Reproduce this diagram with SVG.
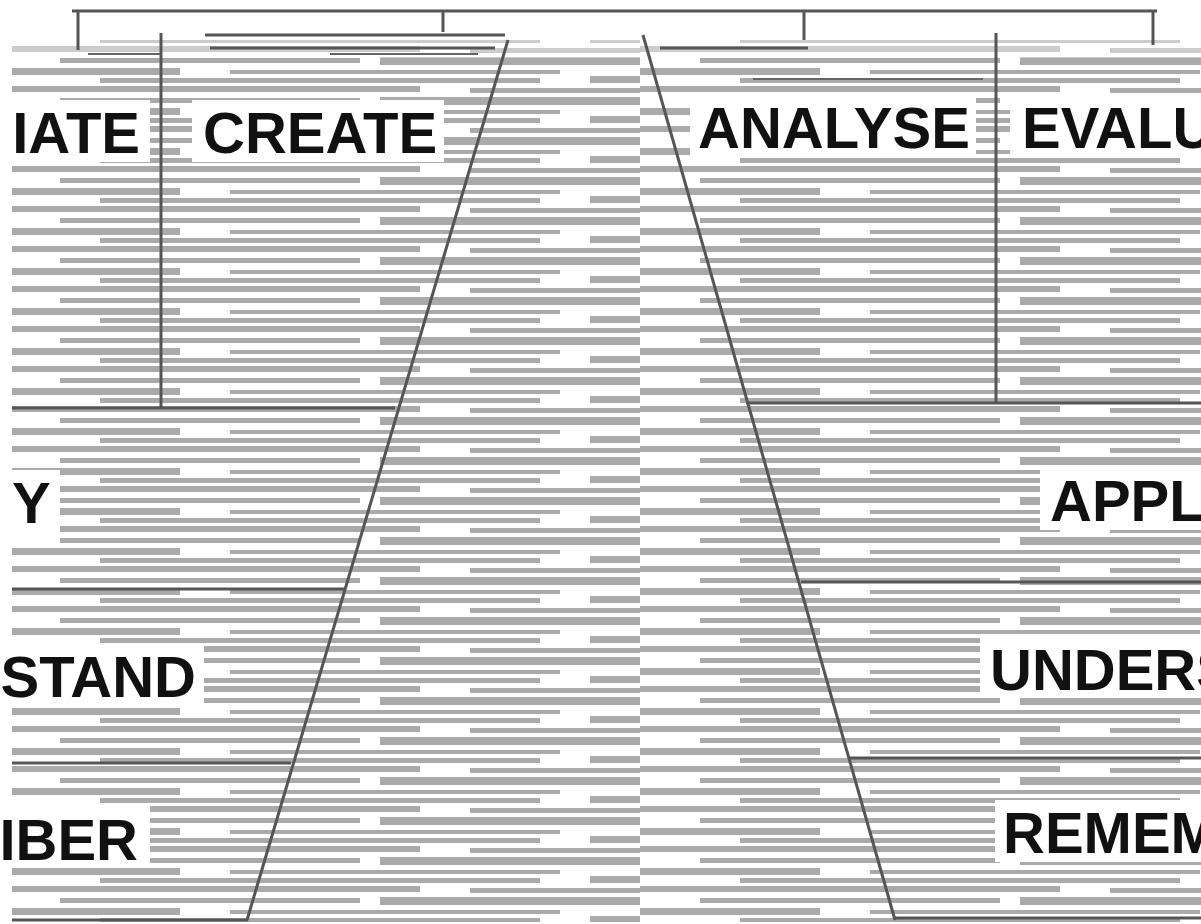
<svg xmlns="http://www.w3.org/2000/svg" width="1201" height="924" viewBox="0 0 1201 924">
<style>
.lbl{font-family:"Liberation Sans",Arial,sans-serif;font-weight:bold;font-size:58px;fill:#111}
.ln{stroke:#555;stroke-width:3;fill:none}
.lt{stroke:#666;stroke-width:2;fill:none}
.halo{fill:#fff}
.s{fill:#aaa}
</style>
<defs>
<pattern id="stripes" patternUnits="userSpaceOnUse" width="640" height="40" x="0" y="6">
<rect class="s" x="0" y="0" width="420" height="6"/>
<rect class="s" x="470" y="2" width="170" height="5"/>
<rect class="s" x="60" y="12" width="300" height="5"/>
<rect class="s" x="380" y="11" width="260" height="8"/>
<rect class="s" x="0" y="22" width="180" height="7"/>
<rect class="s" x="230" y="24" width="330" height="4"/>
<rect class="s" x="100" y="32" width="440" height="5"/>
<rect class="s" x="590" y="30" width="50" height="7"/>
</pattern>
</defs>
<rect width="1201" height="924" fill="#fff"/>
<g id="texture">
<rect x="12" y="58" width="1189" height="864" fill="url(#stripes)"/>
<rect x="12" y="40" width="1189" height="18" fill="url(#stripes)" opacity="0.6"/>
</g>
<g id="halos">
<rect class="halo" x="0" y="100" width="150" height="62"/>
<rect class="halo" x="192" y="100" width="252" height="62"/>
<rect class="halo" x="690" y="96" width="286" height="60"/>
<rect class="halo" x="1010" y="96" width="191" height="60"/>
<rect class="halo" x="4" y="470" width="56" height="62"/>
<rect class="halo" x="1040" y="468" width="161" height="62"/>
<rect class="halo" x="4" y="645" width="200" height="60"/>
<rect class="halo" x="980" y="638" width="221" height="60"/>
<rect class="halo" x="4" y="805" width="146" height="63"/>
<rect class="halo" x="995" y="800" width="206" height="62"/>
</g>
<g id="connectors">
<path class="ln" d="M72 11 H1157"/>
<path class="ln" d="M78 11 V50"/>
<path class="ln" d="M443 11 V32"/>
<path class="ln" d="M804 11 V40"/>
<path class="ln" d="M1153 11 V45"/>
<path class="ln" d="M205 35 H505"/>
<path class="ln" d="M210 48 H495"/>
<path class="ln" d="M660 48 H808"/>
<path class="lt" d="M88 54 H161"/>
<path class="lt" d="M330 54 H478"/>
<path class="lt" d="M753 79 H983"/>
<path class="ln" d="M161 33 V408"/>
<path class="ln" d="M996 33 V403"/>
<path class="ln" d="M508 40 L247 920"/>
<path class="ln" d="M643 35 L895 920"/>
<path class="ln" d="M12 408 H395"/>
<path class="ln" d="M746 403 H1201"/>
<path class="ln" d="M12 589 H345"/>
<path class="ln" d="M801 582 H1201"/>
<path class="ln" d="M12 763 H291"/>
<path class="ln" d="M848 758 H1201"/>
<path class="ln" d="M12 920 H248"/>
<path class="ln" d="M894 918 H1201"/>
</g>
<g id="node-iate"><text class="lbl" x="140" y="153" text-anchor="end">IATE</text></g>
<g id="node-create"><text class="lbl" x="203" y="153">CREATE</text></g>
<g id="node-analyse"><text class="lbl" x="698" y="148">ANALYSE</text></g>
<g id="node-evalu"><text class="lbl" x="1022" y="148">EVALU</text></g>
<g id="node-y"><text class="lbl" x="12" y="523">Y</text></g>
<g id="node-appl"><text class="lbl" x="1050" y="521">APPL</text></g>
<g id="node-stand"><text class="lbl" x="196" y="697" text-anchor="end">STAND</text></g>
<g id="node-unders"><text class="lbl" x="990" y="690">UNDERS</text></g>
<g id="node-iber"><text class="lbl" x="138" y="860" text-anchor="end">IBER</text></g>
<g id="node-remem"><text class="lbl" x="1003" y="853">REMEM</text></g>
</svg>
